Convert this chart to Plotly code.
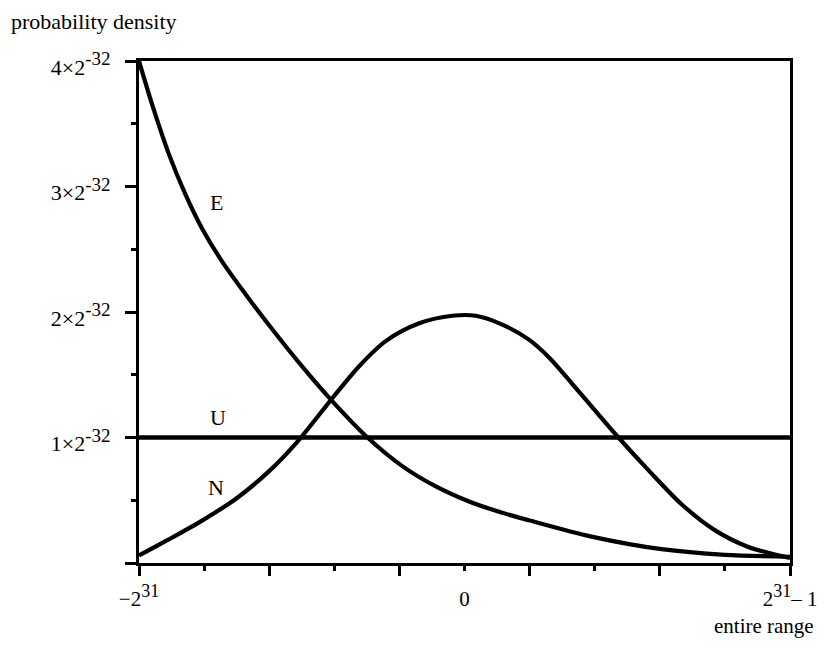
import plotly.graph_objects as go

# --------------------
# Data (x in units of 2^31, y in units of 2^-32)
# --------------------
U_X = [-1.0, 1.0]
U_Y = [1.0, 1.0]

E_X = [-1.0, -0.958, -0.907, -0.856, -0.805, -0.744, -0.672, -0.599, -0.497, -0.410,
       -0.298, -0.190, -0.088, 0.014, 0.116, 0.198, 0.39, 0.605, 0.80, 1.0]
E_Y = [4.0, 3.64, 3.25, 2.93, 2.66, 2.40, 2.14, 1.89, 1.56, 1.30,
       1.0, 0.77, 0.61, 0.49, 0.40, 0.34, 0.21, 0.11, 0.065, 0.05]

N_X = [-1.0, -0.907, -0.805, -0.703, -0.601, -0.509, -0.410, -0.323, -0.241, -0.139,
       -0.037, 0.034, 0.116, 0.198, 0.259, 0.36, 0.473, 0.565, 0.666, 0.77, 0.87, 1.0]
N_Y = [0.06, 0.19, 0.34, 0.51, 0.73, 0.98, 1.30, 1.57, 1.77, 1.91,
       1.97, 1.97, 1.90, 1.78, 1.64, 1.34, 1.0, 0.74, 0.47, 0.26, 0.13, 0.04]

X_MAJOR = [-1.0, -0.6, -0.2, 0.2, 0.6, 1.0]
X_MINOR = [-0.8, -0.4, 0.0, 0.4, 0.8]
X_LABEL_VALS = [-1.0, 0.0, 1.0]
X_SUP = "<sup><span style='font-size:18px'>31</span></sup>"
X_LABEL_TEXT = ["\u22122" + X_SUP, "0", "2" + X_SUP + "\u2013 1"]

Y_MAJOR = [0, 1, 2, 3, 4]
Y_MINOR = [0.5, 1.5, 2.5, 3.5]
Y_SUP = "<sup><span style='font-size:19px'>-32</span></sup>"
Y_TICK_TEXT = ["", "1\u00d72" + Y_SUP, "2\u00d72" + Y_SUP, "3\u00d72" + Y_SUP, "4\u00d72" + Y_SUP]

CURVE_LABELS = ["E", "U", "N"]
LABEL_X = [-0.761, -0.758, -0.764]
LABEL_Y = [2.87, 1.16, 0.60]

FONT = "Liberation Serif"
INK = "black"

fig = go.Figure()
for xs, ys, w in [(U_X, U_Y, 4.5), (E_X, E_Y, 4.2), (N_X, N_Y, 4.2)]:
    fig.add_trace(go.Scatter(
        x=xs, y=ys, mode="lines",
        line=dict(color=INK, width=w, shape="spline", smoothing=0.85),
        showlegend=False, hoverinfo="skip",
    ))
# invisible trace so the label-only bottom axis gets drawn
fig.add_trace(go.Scatter(x=U_X, y=U_Y, xaxis="x2", mode="lines", opacity=0,
                         showlegend=False, hoverinfo="skip"))

for txt, lx, ly in zip(CURVE_LABELS, LABEL_X, LABEL_Y):
    fig.add_annotation(x=lx, y=ly, text=txt, showarrow=False,
                       font=dict(family=FONT, size=22, color=INK))

fig.add_annotation(xref="paper", yref="paper", x=-0.199, y=1.0777,
                   xanchor="left", yanchor="middle", showarrow=False,
                   text="probability density",
                   font=dict(family=FONT, size=22, color=INK))
fig.add_annotation(xref="paper", yref="paper", x=1.0398, y=-0.1255,
                   xanchor="right", yanchor="middle", showarrow=False,
                   text="entire range",
                   font=dict(family=FONT, size=21, color=INK))

line_style = dict(showgrid=False, zeroline=False, showline=True, mirror=True,
                  linecolor=INK, linewidth=3)

fig.update_layout(
    xaxis=dict(range=[-1, 1], tickvals=X_MAJOR, ticks="outside", ticklen=10,
               tickwidth=2.5, tickcolor=INK, showticklabels=False,
               minor=dict(tickvals=X_MINOR, ticks="outside", ticklen=5,
                          tickwidth=2.5, tickcolor=INK, showgrid=False),
               **line_style),
    xaxis2=dict(range=[-1, 1], overlaying="x", side="bottom", anchor="y",
                showgrid=False, zeroline=False, showline=False, ticks="",
                tickvals=X_LABEL_VALS, ticktext=X_LABEL_TEXT, ticklabelstandoff=21,
                tickfont=dict(family=FONT, size=21, color=INK)),
    yaxis=dict(range=[0, 4], tickvals=Y_MAJOR, ticktext=Y_TICK_TEXT, ticks="outside",
               ticklen=11, tickwidth=2.5, tickcolor=INK, ticklabelstandoff=10,
               ticklabelshift=6,
               tickfont=dict(family=FONT, size=22, color=INK),
               minor=dict(tickvals=Y_MINOR, ticks="outside", ticklen=5,
                          tickwidth=2.5, tickcolor=INK, showgrid=False),
               **line_style),
    width=821, height=645,
    margin=dict(l=131, r=37, t=53, b=90),
    plot_bgcolor="white", paper_bgcolor="white",
)

fig.write_html("out.html")
